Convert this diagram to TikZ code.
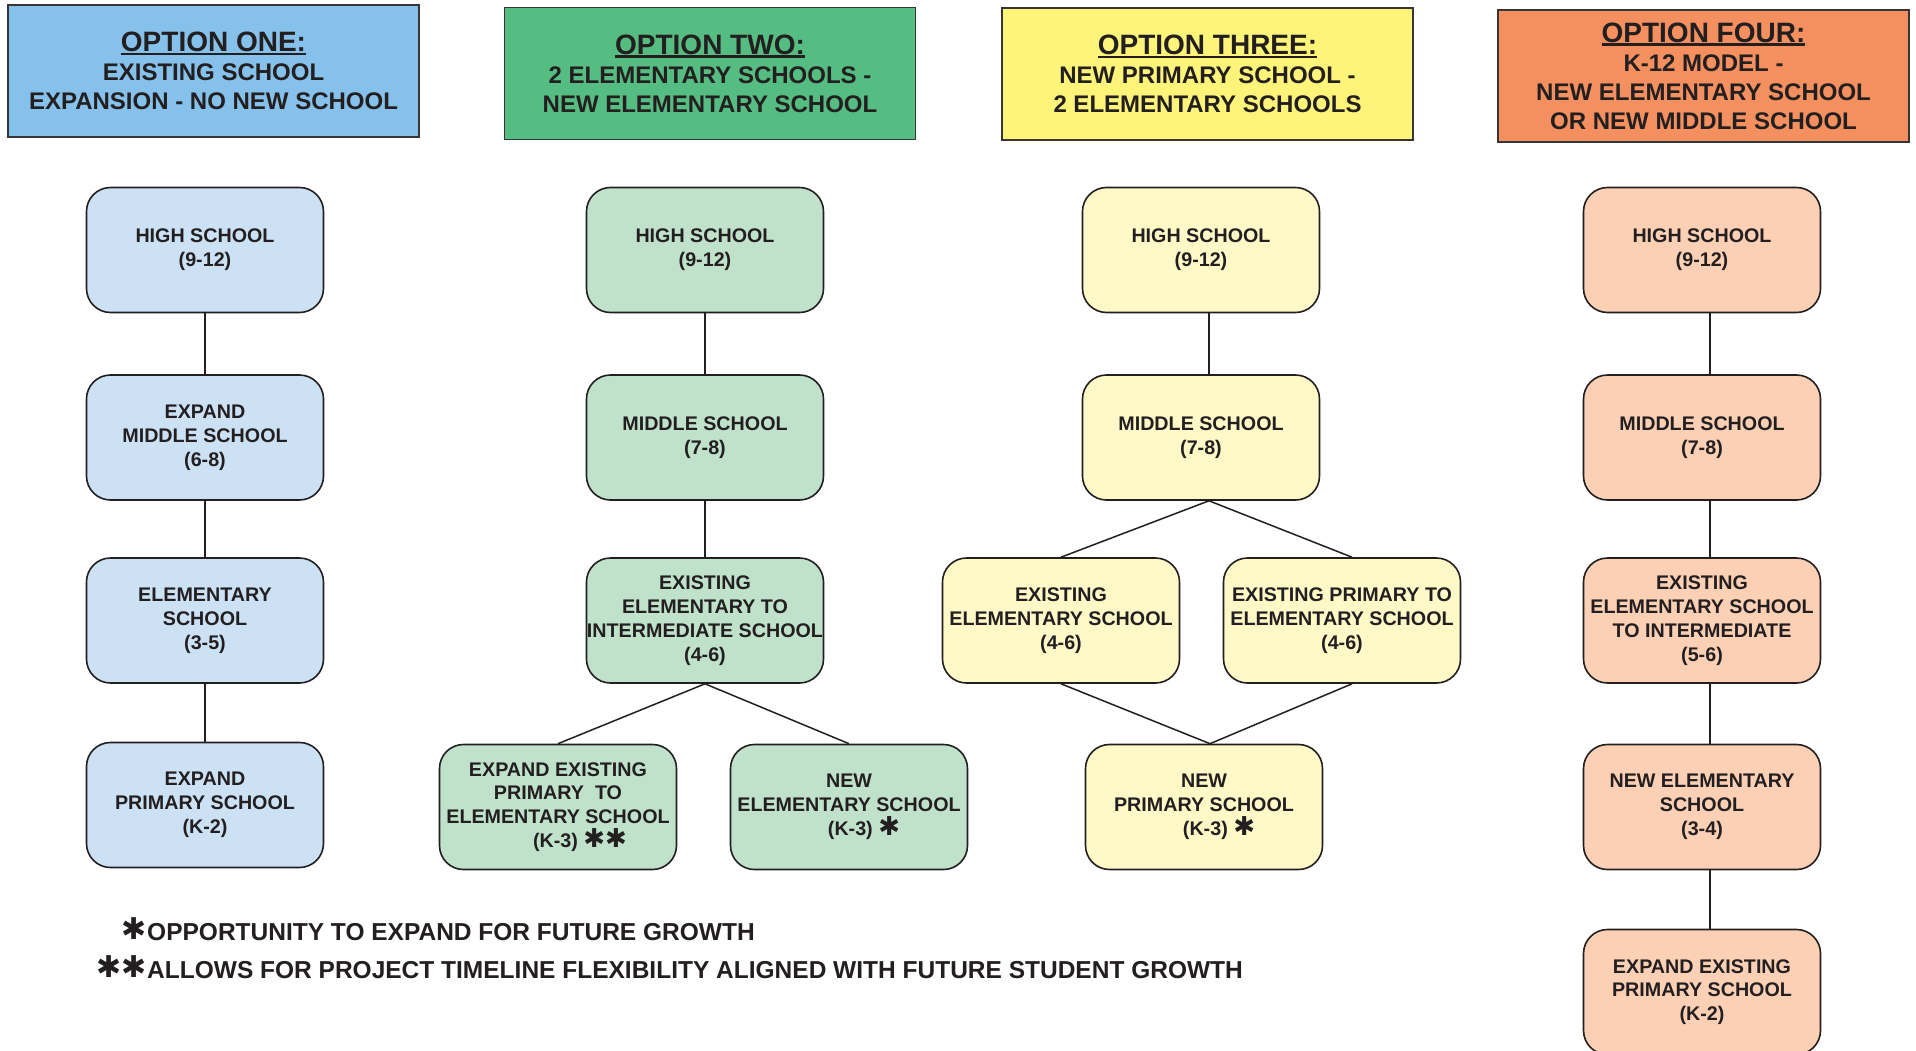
\documentclass[tikz,border=0pt]{standalone}
\usepackage{fontspec}
\setmainfont{Liberation Sans}
\newfontfamily\symfont{DejaVu Sans}
\definecolor{ink}{HTML}{231F20}
\definecolor{hdA}{HTML}{85C1EA}
\definecolor{hdB}{HTML}{55BC82}
\definecolor{hdC}{HTML}{FFF47A}
\definecolor{hdD}{HTML}{F4905F}
\definecolor{bxA}{HTML}{CCE2F4}
\definecolor{bxB}{HTML}{C0E2CB}
\definecolor{bxC}{HTML}{FFF9C8}
\definecolor{bxD}{HTML}{FBD0B5}
\newcommand\hdul[1]{\setbox0=\hbox{#1}\leavevmode\rlap{\rule[-3.5pt]{\wd0}{2.2pt}}\box0}
\newcommand\stx{{\symfont\fontsize{26}{24}\selectfont ✱}}
\newcommand\hdtitle[1]{\hdul{\fontsize{28}{30}\selectfont #1}}
\tikzset{
  hdr/.style={draw=ink!90, line width=1.6pt, minimum width=411pt, minimum height=132pt,
    align=center, text=ink, font=\fontsize{24}{29}\selectfont\bfseries},
  sbox/.style={draw=ink, line width=1.6pt, rounded corners=24pt, minimum width=237pt,
    minimum height=125pt, inner xsep=0.5pt, align=center, text=ink, font=\fontsize{19.7}{23.8}\selectfont\bfseries},
  conn/.style={draw=ink, line width=1.5pt},
  legend/.style={anchor=west, inner sep=0pt, text=ink, font=\fontsize{24.5}{26}\selectfont\bfseries},
  legstar/.style={anchor=east, inner sep=0pt, text=ink, font=\symfont\fontsize{30}{30}\selectfont}
}
\begin{document}
\begin{tikzpicture}[x=1pt,y=-1pt]
\useasboundingbox[fill=white] (0,0) rectangle (1916,1051);

% headers
\node[hdr, fill=hdA] (h1) at (213.5,71) {\hdtitle{OPTION ONE:}\\EXISTING SCHOOL\\EXPANSION - NO NEW SCHOOL};
\node[hdr, fill=hdB] (h2) at (710,73.5) {\hdtitle{OPTION TWO:}\\2 ELEMENTARY SCHOOLS -\\NEW ELEMENTARY SCHOOL};
\node[hdr, fill=hdC] (h3) at (1207.5,74) {\hdtitle{OPTION THREE:}\\NEW PRIMARY SCHOOL -\\2 ELEMENTARY SCHOOLS};
\node[hdr, fill=hdD] (h4) at (1703.5,76) {\hdtitle{OPTION FOUR:}\\K-12 MODEL -\\NEW ELEMENTARY SCHOOL\\OR NEW MIDDLE SCHOOL};

% option one
\node[sbox, fill=bxA] (a1) at (205,250) {HIGH SCHOOL\\(9-12)};
\node[sbox, fill=bxA] (a2) at (205,437.5) {EXPAND\\MIDDLE SCHOOL\\(6-8)};
\node[sbox, fill=bxA] (a3) at (205,620.5) {ELEMENTARY\\SCHOOL\\(3-5)};
\node[sbox, fill=bxA] (a4) at (205,805) {EXPAND\\PRIMARY SCHOOL\\(K-2)};
\draw[conn] (a1) -- (a2);
\draw[conn] (a2) -- (a3);
\draw[conn] (a3) -- (a4);

% option two
\node[sbox, fill=bxB] (b1) at (705,250) {HIGH SCHOOL\\(9-12)};
\node[sbox, fill=bxB] (b2) at (705,437.5) {MIDDLE SCHOOL\\(7-8)};
\node[sbox, fill=bxB] (b3) at (705,620.5) {EXISTING\\ELEMENTARY TO\\INTERMEDIATE SCHOOL\\(4-6)};
\node[sbox, fill=bxB] (b4) at (558,807) {EXPAND EXISTING\\PRIMARY \ TO\\ELEMENTARY SCHOOL\\\hspace*{44pt}(K-3) \stx\stx};
\node[sbox, fill=bxB] (b5) at (849,807) {NEW\\ELEMENTARY SCHOOL\\\hspace*{30pt}(K-3) \stx};
\draw[conn] (b1) -- (b2);
\draw[conn] (b2) -- (b3);
\draw[conn] (b3.south) -- (b4.north);
\draw[conn] (b3.south) -- (b5.north);

% option three
\node[sbox, fill=bxC] (c1) at (1201,250) {HIGH SCHOOL\\(9-12)};
\node[sbox, fill=bxC] (c2) at (1201,437.5) {MIDDLE SCHOOL\\(7-8)};
\node[sbox, fill=bxC] (c3) at (1061,620.5) {EXISTING\\ELEMENTARY SCHOOL\\(4-6)};
\node[sbox, fill=bxC] (c4) at (1342,620.5) {EXISTING PRIMARY TO\\ELEMENTARY SCHOOL\\(4-6)};
\node[sbox, fill=bxC] (c5) at (1204,807) {NEW\\PRIMARY SCHOOL\\\hspace*{30pt}(K-3) \stx};
\draw[conn] ([xshift=8pt]c1.south) -- ([xshift=8pt]c2.north);
\draw[conn] ([xshift=8pt]c2.south) -- (c3.north);
\draw[conn] ([xshift=8pt]c2.south) -- ([xshift=10pt]c4.north);
\draw[conn] (c3.south) -- ([xshift=6pt]c5.north);
\draw[conn] ([xshift=10pt]c4.south) -- ([xshift=6pt]c5.north);

% option four
\node[sbox, fill=bxD] (d1) at (1702,250) {HIGH SCHOOL\\(9-12)};
\node[sbox, fill=bxD] (d2) at (1702,437.5) {MIDDLE SCHOOL\\(7-8)};
\node[sbox, fill=bxD] (d3) at (1702,620.5) {EXISTING\\ELEMENTARY SCHOOL\\TO INTERMEDIATE\\(5-6)};
\node[sbox, fill=bxD] (d4) at (1702,807) {NEW ELEMENTARY\\SCHOOL\\(3-4)};
\node[sbox, fill=bxD] (d5) at (1702,992) {EXPAND EXISTING\\PRIMARY SCHOOL\\(K-2)};
\draw[conn] ([xshift=8pt]d1.south) -- ([xshift=8pt]d2.north);
\draw[conn] ([xshift=8pt]d2.south) -- ([xshift=8pt]d3.north);
\draw[conn] ([xshift=8pt]d3.south) -- ([xshift=8pt]d4.north);
\draw[conn] ([xshift=8pt]d4.south) -- ([xshift=8pt]d5.north);

% legend
\node[legend] (l1) at (147,932) {OPPORTUNITY TO EXPAND FOR FUTURE GROWTH};
\node[legend] (l2) at (147,970) {ALLOWS FOR PROJECT TIMELINE FLEXIBILITY ALIGNED WITH FUTURE STUDENT GROWTH};
\node[legstar] (s1) at ([yshift=3pt]l1.west) {✱};
\node[legstar] (s2) at ([yshift=3pt]l2.west) {✱✱};
\end{tikzpicture}
\end{document}
